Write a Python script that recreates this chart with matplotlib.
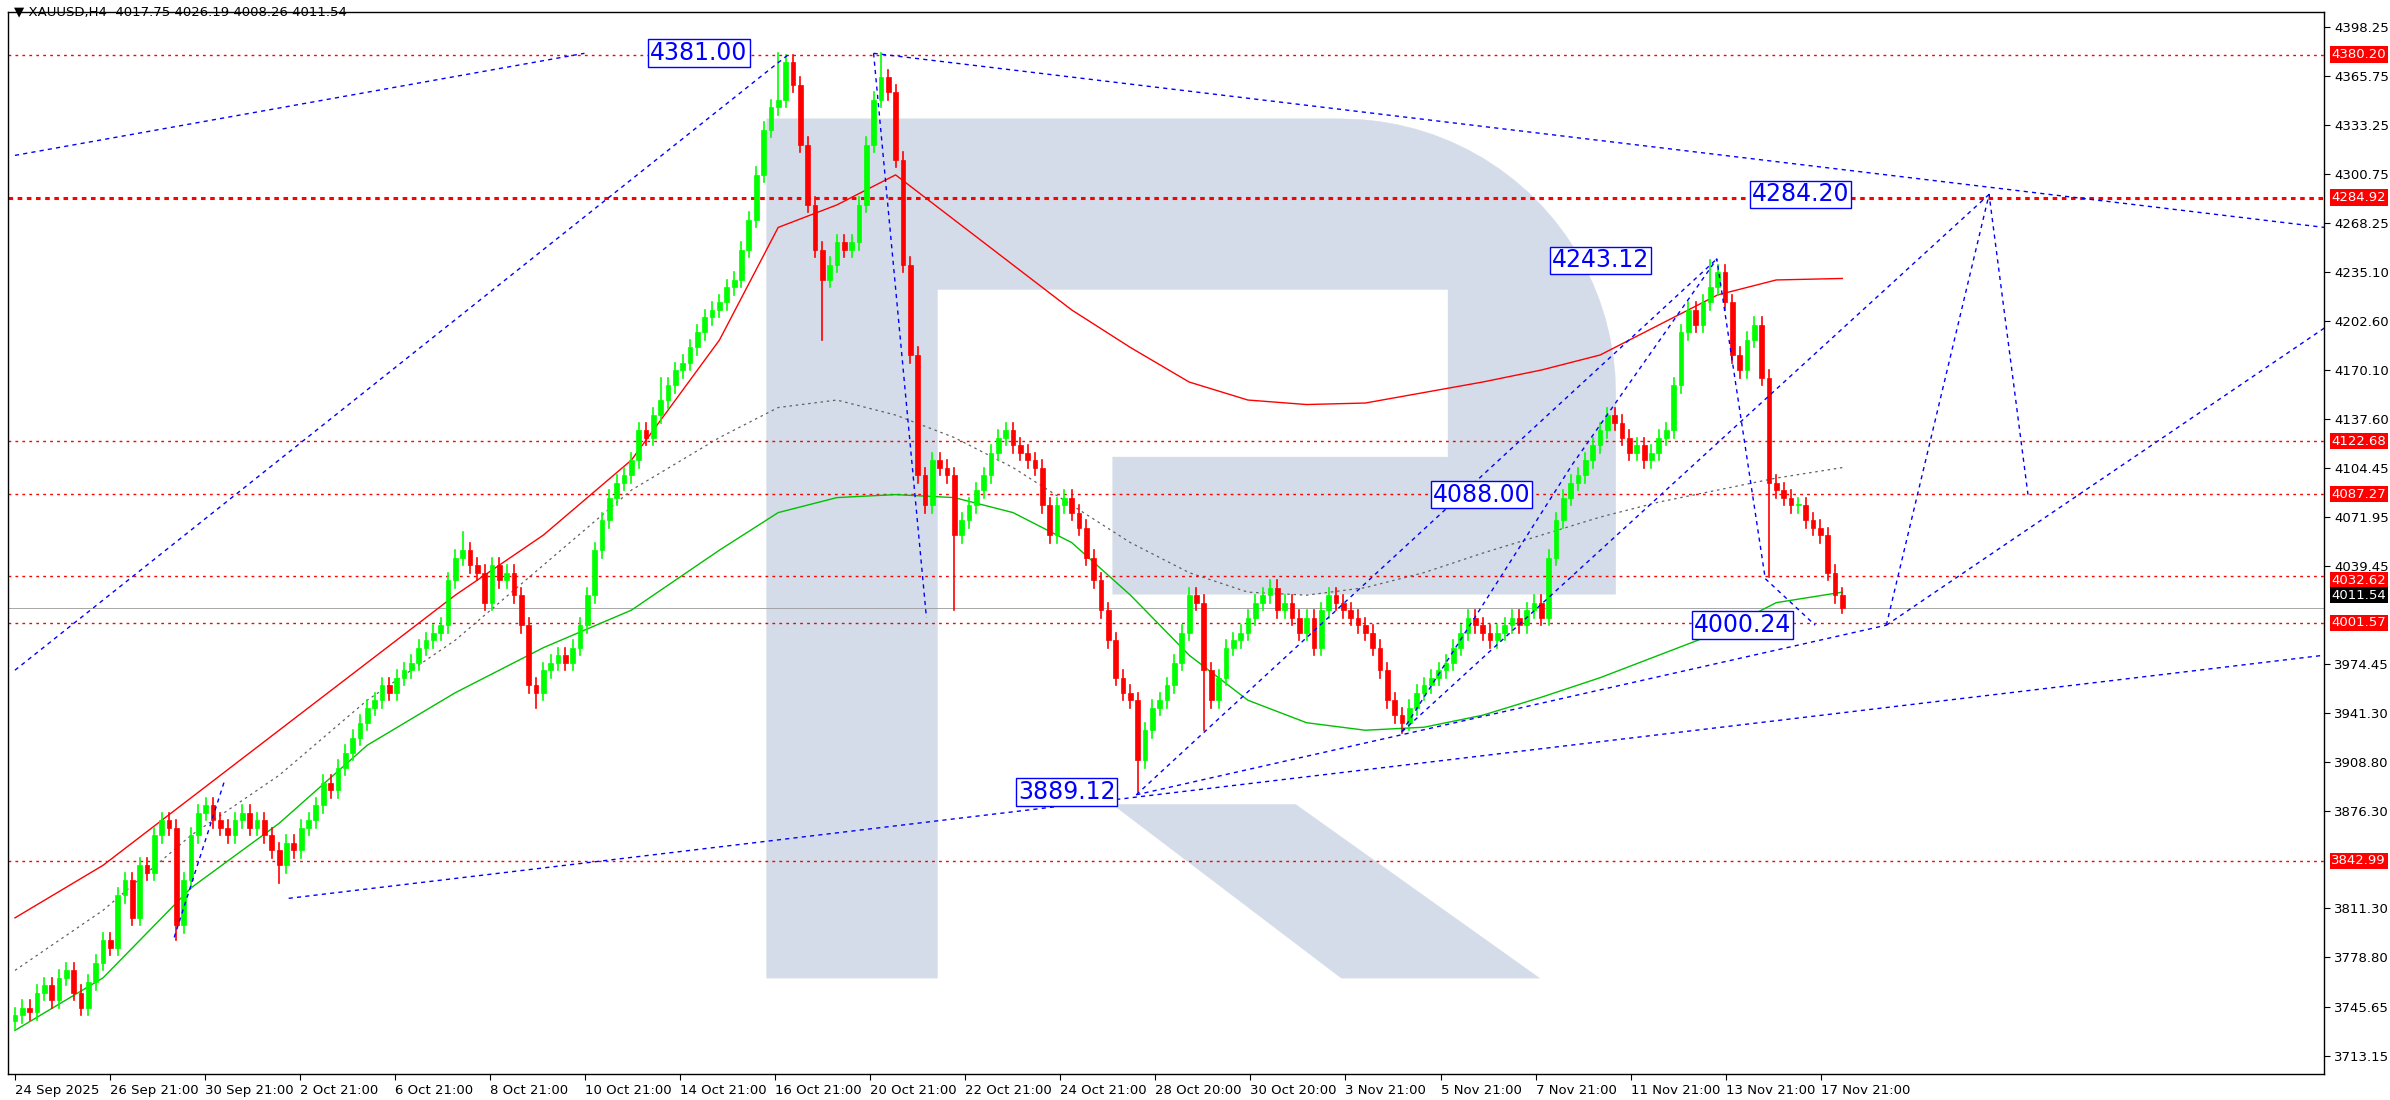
import matplotlib
matplotlib.use("Agg")
import matplotlib.pyplot as plt
from matplotlib.patches import Rectangle, Polygon
import numpy as np

closes = [3740,3745,3742,3755,3760,3750,3765,3770,3755,3745,3762,3775,
          3790,3785,3820,3830,3805,3840,3835,3860,3870,3865,3800,3830,
          3860,3875,3880,3870,3865,3860,3870,3875,3865,3870,3860,3850,
          3840,3855,3850,3865,3870,3880,3895,3890,3905,3915,3925,3935,
          3945,3950,3960,3955,3965,3970,3975,3985,3990,3995,4000,4030,
          4045,4050,4040,4035,4015,4040,4030,4035,4020,4000,3960,3955,
          3970,3975,3980,3975,3985,4000,4020,4050,4070,4085,4095,4100,
          4110,4130,4125,4140,4150,4160,4170,4175,4185,4195,4205,4210,
          4215,4225,4230,4250,4270,4300,4330,4345,4350,4375,4360,4320,
          4280,4250,4230,4240,4255,4250,4255,4280,4320,4350,4365,4355,
          4310,4240,4180,4100,4080,4110,4105,4100,4060,4070,4080,4090,
          4100,4115,4125,4130,4120,4115,4110,4105,4080,4060,4080,4085,
          4075,4065,4045,4030,4010,3990,3965,3955,3950,3910,3930,3945,
          3950,3960,3975,3995,4020,4015,3970,3950,3965,3985,3990,3995,
          4005,4015,4020,4025,4010,4015,4005,3995,4005,3985,4010,4020,
          4015,4010,4005,4000,3995,3985,3970,3950,3940,3935,3945,3955,
          3960,3965,3970,3975,3985,3995,4005,4000,3995,3990,3995,4000,
          4005,4000,4010,4015,4005,4045,4070,4085,4095,4100,4110,4120,
          4130,4140,4135,4125,4115,4120,4110,4115,4125,4130,4160,4195,
          4210,4200,4215,4225,4235,4215,4180,4170,4190,4200,4165,4095,
          4090,4085,4080,4080,4070,4065,4060,4035,4020,4011.54]
first_open = 3736
extreme_highs = {104: 4381.0, 118: 4381.0, 231: 4243.12, 61: 4062, 88: 4165}
extreme_lows = {22: 3790, 36: 3828, 71: 3945, 110: 4190, 128: 4010, 153: 3889.12,
                162: 3930, 189: 3928, 239: 4032, 249: 4008.26}

ma_bars = [0,12,24,36,48,60,72,84,96,104,112,120,128,136,144,152,160,168,176,184,192,200,208,216,224,232,240,249]
ma_red = [3805,3840,3885,3930,3975,4020,4060,4110,4190,4265,4280,4300,4270,4240,4210,4185,4162,4150,4147,4148,4155,4162,4170,4180,4200,4220,4230,4231]
ma_green = [3730,3765,3825,3868,3920,3955,3985,4010,4050,4075,4085,4087,4085,4075,4055,4020,3980,3950,3935,3930,3932,3940,3952,3965,3980,3995,4015,4022]
ma_gray = [3770,3810,3860,3900,3950,3990,4040,4090,4125,4145,4150,4140,4125,4105,4080,4055,4035,4022,4020,4025,4035,4048,4060,4072,4082,4090,4098,4105]

hlines = [4380.20, 4284.92, 4122.68, 4087.27, 4032.62, 4001.57, 3842.99]
current = 4011.54

trendlines = [((0,4313),(77.6,4381)), ((0,3970),(105.6,4381)), ((117,4381),(314.7,4265)),
              ((37.3,3818),(314.7,3980)), ((152.8,3887),(255,4000)), ((152.8,3887),(231.9,4244)),
              ((189,3929),(269,4287)), ((255,4000),(314.7,4198))]
zigzags = [[(21.7,3792),(28.6,3897)], [(117,4381),(124.2,4005)],
           [(189,3929),(212.2,4107),(231.9,4244),(238.5,4031),(245.3,4000)],
           [(255,4000),(269,4287),(274.3,4087)]]
labels = [("4381.00",93.2,4381),("4243.12",216,4243),("4284.20",243.3,4287),
          ("4088.00",199.8,4087),("4000.24",235.4,4000),("3889.12",143.3,3889)]

ytick_vals = [4398.25,4365.75,4333.25,4300.75,4268.25,4235.10,4202.60,4170.10,4137.60,4104.45,
              4071.95,4039.45,3974.45,3941.30,3908.80,3876.30,3811.30,3778.80,3745.65,3713.15]
xtick_labels = ["24 Sep 2025","26 Sep 21:00","30 Sep 21:00","2 Oct 21:00","6 Oct 21:00","8 Oct 21:00",
                "10 Oct 21:00","14 Oct 21:00","16 Oct 21:00","20 Oct 21:00","22 Oct 21:00","24 Oct 21:00",
                "28 Oct 20:00","30 Oct 20:00","3 Nov 21:00","5 Nov 21:00","7 Nov 21:00","11 Nov 21:00",
                "13 Nov 21:00","17 Nov 21:00"]
bars_per_label = 12.95

W, H = 2390, 1100
fig = plt.figure(figsize=(W/100, H/100), dpi=100)
ax = fig.add_axes([5/1568, 17/722, 1520/1568, 697/722])
ymin, ymax = 3700.9, 4408.4
xmin, xmax = -1.0, 314.7
ax.set_xlim(xmin, xmax); ax.set_ylim(ymin, ymax)

def fx(x): return (x-5)/1520
def fy(y): return (705-y)/697
wm = "#d3dce8"
t = ax.transAxes
ang = np.linspace(np.pi/2, 0, 24)
arc = [(fx(880 + 180*np.cos(a)), fy(258 - 180*np.sin(a))) for a in ang]
upper = ([(fx(503),fy(642)),(fx(503),fy(78)),(fx(880),fy(78))] + arc +
         [(fx(1060),fy(390)),(fx(730),fy(390)),(fx(730),fy(300)),(fx(950),fy(300)),(fx(950),fy(190)),
          (fx(615),fy(190)),(fx(615),fy(642))])
ax.add_patch(Polygon(upper, closed=True, fc=wm, ec=wm, lw=0.3, transform=t, zorder=0))
ax.add_patch(Polygon([(fx(730),fy(528)),(fx(850),fy(528)),(fx(1010),fy(642)),(fx(880),fy(642))],
                     closed=True, fc=wm, ec=wm, lw=0.3, transform=t, zorder=0))

n = len(closes)
opens = [first_open] + closes[:-1]
for i in range(n):
    o, c = opens[i], closes[i]
    hi = extreme_highs.get(i, max(o, c) + 5)
    lo = extreme_lows.get(i, min(o, c) - 5)
    col = "#00ff00" if c >= o else "#ff0000"
    ax.plot([i, i], [lo, hi], color=col, lw=1.2, zorder=3)
    ax.add_patch(Rectangle((i-0.32, min(o, c)), 0.64, max(abs(c-o), 0.8), facecolor=col, edgecolor=col, lw=0.5, zorder=4))

ax.plot(ma_bars, ma_red, color="#ff0000", lw=1.0, zorder=2)
ax.plot(ma_bars, ma_green, color="#00c000", lw=1.0, zorder=2)
ax.plot(ma_bars, ma_gray, color="#606060", lw=0.9, ls=(0,(2,3)), zorder=2)

for i, v in enumerate(hlines):
    ax.axhline(v, color="#ff0000", lw=2.2 if i == 1 else 1.0, ls=(0,(2,3)) if i != 1 else (0,(1.5,1.5)), zorder=1)

for (a, b) in trendlines:
    ax.plot([a[0], b[0]], [a[1], b[1]], color="#0000ff", lw=1.0, ls=(0,(3,3)), zorder=5)
for z in zigzags:
    ax.plot([p[0] for p in z], [p[1] for p in z], color="#0000ff", lw=1.0, ls=(0,(3,3)), zorder=5)

for txt, bx, py in labels:
    ax.text(bx, py, txt, fontsize=17, color="#0000ff", ha="center", va="center", zorder=7,
            bbox=dict(boxstyle="square,pad=0.08", fc="white", ec="#0000ff", lw=1.0))

ax.yaxis.tick_right()
ax.set_yticks(ytick_vals)
ax.set_yticklabels([f"{v:.2f}" for v in ytick_vals], fontsize=9.5)
ax.set_xticks([bars_per_label*k for k in range(len(xtick_labels))])
ax.set_xticklabels(xtick_labels, fontsize=9.5, ha="left")
ax.tick_params(axis="both", length=4, pad=3)
for s in ax.spines.values():
    s.set_color("black"); s.set_linewidth(1)

for v in hlines:
    ax.text(1.003, (v-ymin)/(ymax-ymin) - (0.004 if v == 4032.62 else 0), f"{v:.2f}", transform=t, fontsize=9.5, color="white",
            va="center", ha="left", bbox=dict(boxstyle="square,pad=0.12", fc="#ff0000", ec="none"), zorder=8, clip_on=False)
ax.text(1.003, (current-ymin)/(ymax-ymin)+0.012, f"{current:.2f}", transform=t, fontsize=9.5, color="white",
        va="center", ha="left", bbox=dict(boxstyle="square,pad=0.12", fc="black", ec="none"), zorder=9, clip_on=False)
ax.axhline(current, color="#999999", lw=0.6, zorder=1)

fig.text(0.006, 0.989, "\u25BC XAUUSD,H4  4017.75 4026.19 4008.26 4011.54", fontsize=9.5, va="center", ha="left")
fig.savefig("out.png", dpi=100)
